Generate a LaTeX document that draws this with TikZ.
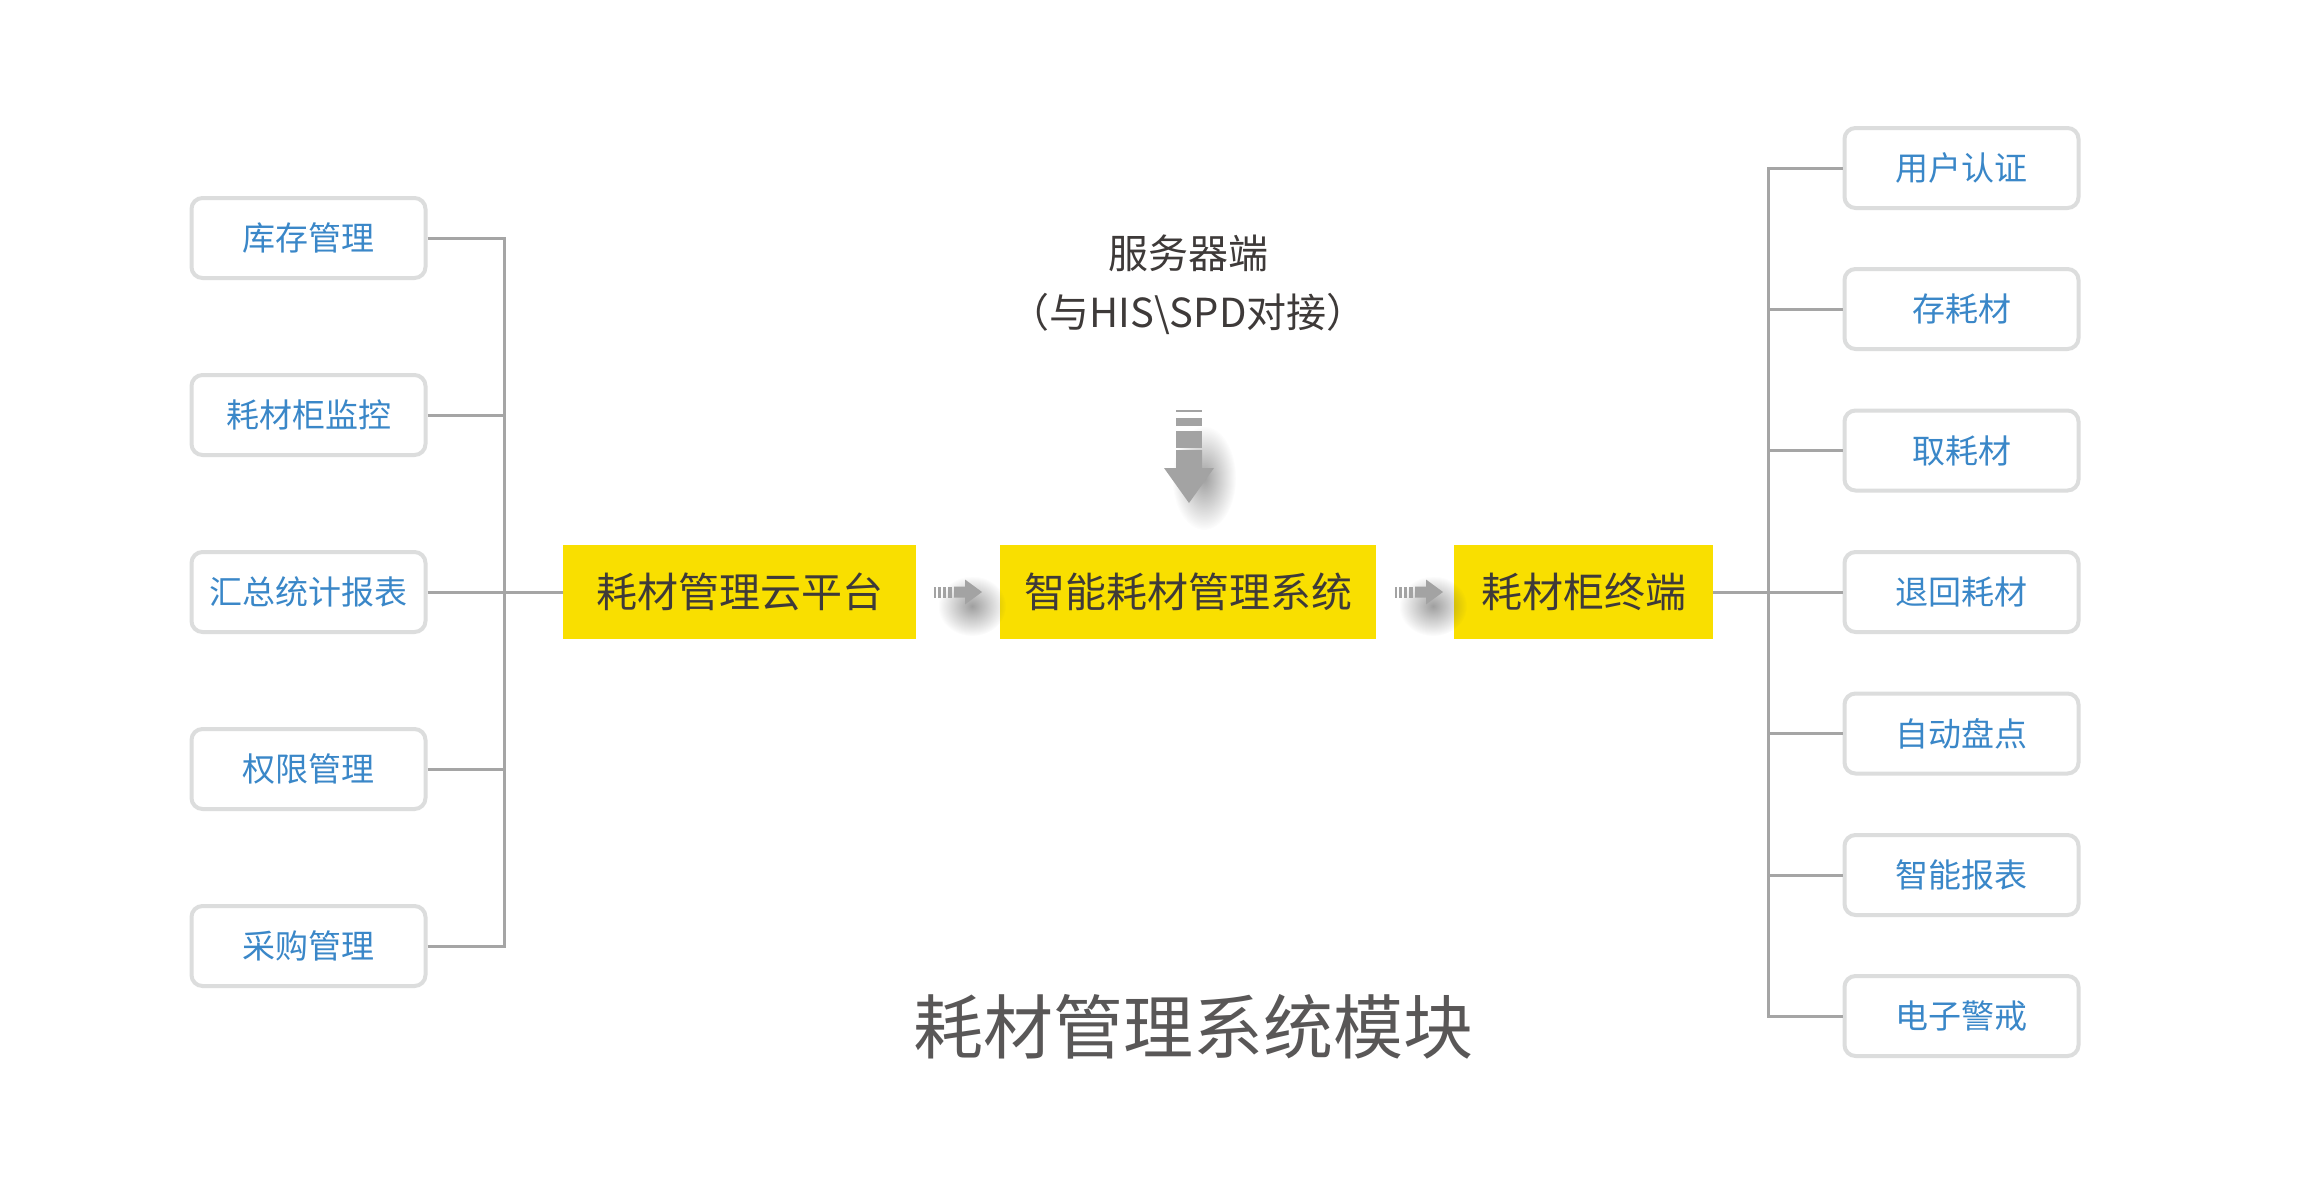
\documentclass[tikz,border=0pt]{standalone}
\usepackage{fontspec}
\setmainfont{Noto Sans CJK SC}
\usetikzlibrary{fadings}
\definecolor{subblue}{HTML}{3A87C8}
\definecolor{subborder}{HTML}{DCDDDD}
\definecolor{linegray}{HTML}{A5A5A5}
\definecolor{mainyellow}{HTML}{F9DF00}
\definecolor{darktext}{HTML}{3E3A39}
\definecolor{titlegray}{HTML}{595757}
\definecolor{arrowgray}{HTML}{A3A3A3}
\tikzfading[name=softfade, inner color=transparent!50, outer color=transparent!100]
\tikzset{
  subbox/.style={draw=subborder, line width=4pt, fill=white, rounded corners=11pt,
    minimum width=234pt, minimum height=80pt, inner sep=0pt,
    text=subblue, font=\fontsize{33}{40}\selectfont},
  mainbox/.style={fill=mainyellow, inner sep=0pt, minimum height=94pt,
    text=darktext, font=\fontsize{41}{48}\selectfont},
  conn/.style={draw=linegray, line width=3pt},
  labeltext/.style={inner sep=0pt, text=darktext, font=\fontsize{40}{48}\selectfont},
  arrowfill/.style={fill=arrowgray},
  softshadow/.style={fill=black!75, path fading=softfade}
}
\begin{document}
\begin{tikzpicture}[x=1pt,y=-1pt]
\useasboundingbox (0,0) rectangle (2310,1183);
\fill[white] (0,0) rectangle (2310,1183);

% left sub boxes
\node[subbox] (L1) at (308.5,238) {库存管理};
\node[subbox] (L2) at (308.5,415) {耗材柜监控};
\node[subbox] (L3) at (308.5,592) {汇总统计报表};
\node[subbox] (L4) at (308.5,769) {权限管理};
\node[subbox] (L5) at (308.5,946) {采购管理};

% right sub boxes
\node[subbox] (R1) at (1961.5,168) {用户认证};
\node[subbox] (R2) at (1961.5,309) {存耗材};
\node[subbox] (R3) at (1961.5,450.5) {取耗材};
\node[subbox] (R4) at (1961.5,592) {退回耗材};
\node[subbox] (R5) at (1961.5,733.5) {自动盘点};
\node[subbox] (R6) at (1961.5,875) {智能报表};
\node[subbox] (R7) at (1961.5,1016) {电子警戒};

% main yellow boxes
\node[mainbox, minimum width=353pt] (Y1) at (739.5,592) {耗材管理云平台};
\node[mainbox, minimum width=376pt] (Y2) at (1188,592) {智能耗材管理系统};
\node[mainbox, minimum width=259pt] (Y3) at (1583.5,592) {耗材柜终端};

% bus coordinates
\coordinate (lb) at (504,592);
\coordinate (rb) at (1768,592);

% left connectors
\foreach \n in {L1,L2,L3,L4,L5} \draw[conn] (\n.east) -| (lb);
\draw[conn] (lb) -- (Y1.west);

% right connectors
\draw[conn] (Y3.east) -- (R4.west);
\foreach \n in {R1,R2,R3,R5,R6,R7} \draw[conn] (\n.west) -| (rb);

% server label
\node[labeltext] (srv) at (1188,253) {服务器端};
\node[labeltext] (srv2) at (1188,314) {（与HIS\textbackslash SPD对接）};

% shadows
\fill[softshadow] (972,606) ellipse [x radius=34pt, y radius=30pt];
\fill[softshadow] (1433,606) ellipse [x radius=34pt, y radius=30pt];
\fill[softshadow] (1204,478) ellipse [x radius=32pt, y radius=52pt];

% small horizontal arrows
\foreach \sx in {934,1395}{
  \begin{scope}[shift={(\sx,592)}]
    \fill[arrowfill] (0,-5.5) rectangle (2,5.5);
    \fill[arrowfill] (4,-5.5) rectangle (7,5.5);
    \fill[arrowfill] (9,-5.5) rectangle (12,5.5);
    \fill[arrowfill] (14,-5.5) rectangle (18,5.5);
    \fill[arrowfill] (20,-5.5) -- (31,-5.5) -- (31,-12.5) -- (48,0) -- (31,12.5) -- (31,5.5) -- (20,5.5) -- cycle;
  \end{scope}
}

% down arrow
\begin{scope}[shift={(1189,0)}]
  \fill[arrowfill] (-13,409.5) rectangle (13,412);
  \fill[arrowfill] (-13,418) rectangle (13,425.5);
  \fill[arrowfill] (-13,431) rectangle (13,448);
  \fill[arrowfill] (-13,450) -- (13,450) -- (13,468) -- (25,468) -- (0,503) -- (-25,468) -- (-13,468) -- cycle;
\end{scope}

% title
\node[inner sep=0pt, text=titlegray, font=\fontsize{70}{82}\selectfont] (title) at (1193,1027) {耗材管理系统模块};
\end{tikzpicture}
\end{document}
